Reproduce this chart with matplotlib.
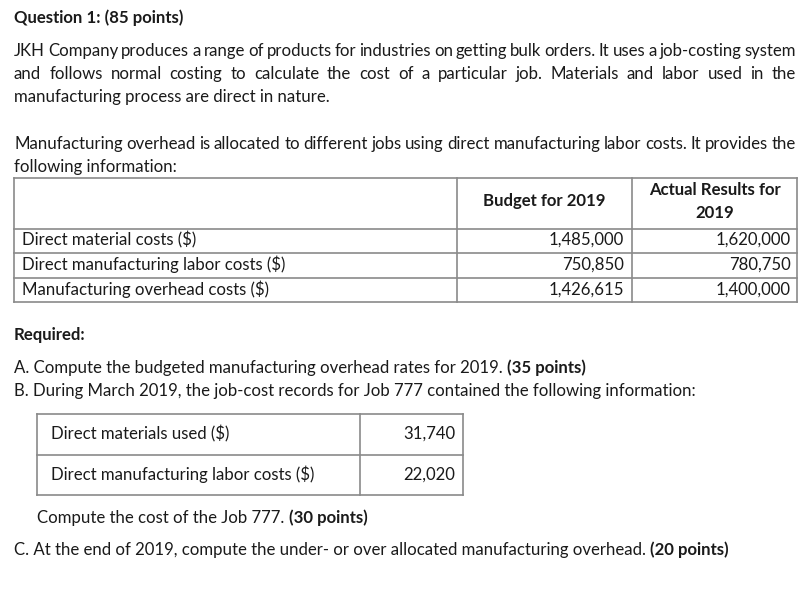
import matplotlib.pyplot as plt

W, H = 811, 590
FONT = ['Lato', 'DejaVu Sans']
SIZE = 12.1
INK = '#1a1a1a'
RULE = '#8a8a8a'

title = "Question 1: (85 points)"
intro_lines = [
    "JKH Company produces a range of products for industries on getting bulk orders. It uses a job-costing system",
    "and follows normal costing to calculate the cost of a particular job. Materials and labor used in the",
    "manufacturing process are direct in nature.",
]
alloc_lines = [
    "Manufacturing overhead is allocated to different jobs using direct manufacturing labor costs. It provides the",
    "following information:",
]
col_headers = ["Budget for 2019", "Actual Results for\n2019"]
row_labels = ["Direct material costs ($)",
              "Direct manufacturing labor costs ($)",
              "Manufacturing overhead costs ($)"]
budget_2019 = ["1,485,000", "750,850", "1,426,615"]
actual_2019 = ["1,620,000", "780,750", "1,400,000"]

job_labels = ["Direct materials used ($)", "Direct manufacturing labor costs ($)"]
job_values = ["31,740", "22,020"]

fig = plt.figure(figsize=(8.11, 5.90), dpi=100)
ax = fig.add_axes([0, 0, 1, 1])
ax.set_xlim(0, W)
ax.set_ylim(H, 0)
ax.axis('off')
renderer = fig.canvas.get_renderer()


def put(x, y, s, bold=False, ha='left'):
    return ax.text(x, y, s, family=FONT, size=SIZE, color=INK, ha=ha, va='baseline',
                   fontweight='bold' if bold else 'normal')


def width(t):
    return t.get_window_extent(renderer).width


def space(bold=False):
    a = put(0, -50, "x x", bold)
    b = put(0, -50, "xx", bold)
    w = width(a) - width(b)
    a.remove()
    b.remove()
    return w


def justify(x0, x1, y, line):
    words = [put(x0, y, w) for w in line.split()]
    widths = [width(t) for t in words]
    gap = (x1 - x0 - sum(widths)) / (len(words) - 1)
    x = x0
    for t, w in zip(words, widths):
        t.set_x(x)
        x += w + gap


def runs(x, y, parts):
    for i, (s, bold) in enumerate(parts):
        t = put(x, y, s, bold)
        x += width(t) + space(bold)


def hline(y, x0, x1):
    ax.plot([x0, x1], [y, y], color=RULE, lw=1.2)


def vline(x, y0, y1):
    ax.plot([x, x], [y0, y1], color=RULE, lw=1.2)


put(14, 23, title, bold=True)

for y, line in zip([56, 79], intro_lines[:2]):
    justify(14, 796, y, line)
put(14, 102, intro_lines[2])

justify(14, 796, 149, alloc_lines[0])
put(14, 172, alloc_lines[1])

# first table
tx = [14, 457, 632, 797]
ty = [178, 229, 253, 278, 302]
for y in ty:
    hline(y, tx[0], tx[-1])
for x in tx:
    vline(x, ty[0], ty[-1])

put((tx[1] + tx[2]) / 2, 206, col_headers[0], bold=True, ha='center')
hdr = col_headers[1].split("\n")
put((tx[2] + tx[3]) / 2, 195, hdr[0], bold=True, ha='center')
put((tx[2] + tx[3]) / 2, 218, hdr[1], bold=True, ha='center')

for i, lab in enumerate(row_labels):
    y = 245 + i * 25
    put(22, y, lab)
    put(tx[2] - 8, y, budget_2019[i], ha='right')
    put(tx[3] - 6, y, actual_2019[i], ha='right')

put(14, 340, "Required:", bold=True)
runs(14, 373, [("A. Compute the budgeted manufacturing overhead rates for 2019.", False),
               ("(35 points)", True)])
put(14, 396, "B. During March 2019, the job-cost records for Job 777 contained the following information:")

# second table
jx = [37, 360, 463]
jy = [414, 455, 495]
for y in jy:
    hline(y, jx[0], jx[-1])
for x in jx:
    vline(x, jy[0], jy[-1])
for i, lab in enumerate(job_labels):
    y = 439 + i * 41
    put(51, y, lab)
    put(jx[2] - 8, y, job_values[i], ha='right')

runs(37, 523, [("Compute the cost of the Job 777.", False), ("(30 points)", True)])
runs(14, 555, [("C. At the end of 2019, compute the under- or over allocated manufacturing overhead.", False),
               ("(20 points)", True)])

fig.savefig("out.png", dpi=100)
